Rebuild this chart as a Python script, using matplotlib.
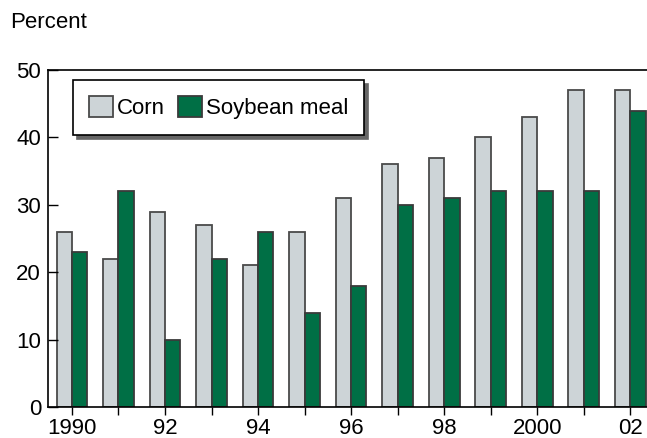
import matplotlib.pyplot as plt
import numpy as np

plt.rcParams['font.family'] = ['Liberation Sans', 'DejaVu Sans']

years = list(range(1990, 2003))
corn = [26, 22, 29, 27, 21, 26, 31, 36, 37, 40, 43, 47, 47]
soy = [23, 32, 10, 22, 26, 14, 18, 30, 31, 32, 32, 32, 44]
tick_labels = ['1990', '92', '94', '96', '98', '2000', '02']

fig = plt.figure(figsize=(6.47, 4.38), dpi=100)
ax = fig.add_axes([0.0742, 0.0708, 0.9258, 0.7692])

x = np.array(years)
w = 0.33
ax.bar(x - w / 2, corn, w, color='#cdd4d7', edgecolor='#4a4a4a', linewidth=1.3, label='Corn')
ax.bar(x + w / 2, soy, w, color='#006f45', edgecolor='#3a3a3a', linewidth=1.3, label='Soybean meal')

ax.set_xlim(1989.485, 2002.36)
ax.set_ylim(0, 50)
ax.set_yticks(range(0, 51, 10))
ax.set_xticks(years)
ax.set_xticklabels([tick_labels[i // 2] if i % 2 == 0 else '' for i in range(len(years))])
ax.tick_params(axis='y', direction='in', length=7, width=1, labelsize=16, pad=5)
ax.tick_params(axis='x', direction='out', length=6, width=1, labelsize=16, pad=2)
ax.spines['right'].set_visible(False)
for s in ['left', 'top', 'bottom']:
    ax.spines[s].set_linewidth(1.2)

leg = ax.legend(loc='upper left', bbox_to_anchor=(0.042, 0.97), ncol=2, frameon=True,
                fancybox=False, shadow={'color': '#666666', 'alpha': 1.0, 'ox': 3, 'oy': -3},
                fontsize=16, handlelength=1.1, handleheight=1.1, columnspacing=0.6,
                handletextpad=0.15, borderpad=0.7, borderaxespad=0)
leg.get_frame().set_edgecolor('black')
leg.get_frame().set_linewidth(1.2)

fig.text(10 / 647, 1 - 22 / 438, 'Percent', fontsize=16, va='center', ha='left')

fig.savefig('out.png', dpi=100)
